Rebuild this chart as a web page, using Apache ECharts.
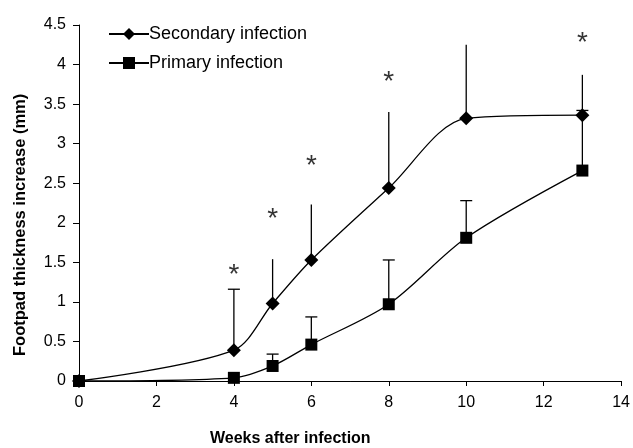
<!DOCTYPE html>
<html>
<head>
<meta charset="utf-8">
<script src="https://cdn.jsdelivr.net/npm/echarts@6/dist/echarts.min.js"></script>
<style>
  html, body { margin: 0; padding: 0; background: #fff; }
  #chart { width: 633px; height: 448px; }
</style>
</head>
<body>
<div id="chart"></div>
<script>
// weeks after infection
const weeks = [0, 4, 5, 6, 8, 10, 13]
// mean footpad thickness increase (mm)
const secondary = [0, 0.39, 0.98, 1.53, 2.44, 3.32, 3.36]
const primary = [0, 0.04, 0.19, 0.46, 0.97, 1.81, 2.66]
// upper end of the error bars
const secondaryErrTop = [0, 1.16, 1.54, 2.23, 3.40, 4.25, 3.87]
const primaryErrTop = [0, 0, 0.34, 0.81, 1.53, 2.28, 3.42]
// whether a cap is drawn on the bar
const secondaryCap = [false, true, false, false, false, false, false]
const primaryCap = [false, false, true, true, true, true, true]
// asterisk positions (significance marks)
const starWeeks = [4, 5, 6, 8, 10, 13]
const starValues = [1.43, 2.13, 2.80, 3.86, 4.53, 4.36]

const yTicks = ['0', '0.5', '1', '1.5', '2', '2.5', '3', '3.5', '4', '4.5']

const font = 'Liberation Sans, Arial, sans-serif'
const ink = '#000'

const pairs = (xs, ys) => xs.map((x, i) => [x, ys[i]])

function errSeries(name, tops, means, caps) {
  const data = weeks.map((w, i) => [w, means[i], tops[i], caps[i] ? 1 : 0])
    .filter(d => d[2] > d[1])
  return {
    name, type: 'custom', silent: true, z: 1,
    data,
    renderItem: (params, api) => {
      const lo = api.coord([api.value(0), api.value(1)])
      const hi = api.coord([api.value(0), api.value(2)])
      const children = [{
        type: 'line',
        shape: { x1: lo[0], y1: lo[1], x2: hi[0], y2: hi[1] },
        style: { stroke: ink, lineWidth: 1.3 }
      }]
      if (api.value(3)) {
        children.push({
          type: 'line',
          shape: { x1: hi[0] - 6, y1: hi[1], x2: hi[0] + 6, y2: hi[1] },
          style: { stroke: ink, lineWidth: 1.3 }
        })
      }
      return { type: 'group', children }
    }
  }
}

const chart = echarts.init(document.getElementById('chart'))
chart.setOption({
  animation: false,
  grid: { left: 79, right: 10, top: 25, bottom: 67 },
  legend: {
    left: 103, top: 20, orient: 'vertical', itemGap: 11,
    itemWidth: 40, itemHeight: 15,
    textStyle: { fontFamily: font, fontSize: 18, color: ink, padding: [0, 0, 0, -5] },
    data: ['Secondary infection', 'Primary infection']
  },
  xAxis: {
    type: 'value', min: 0, max: 14, interval: 2,
    axisLine: { lineStyle: { color: ink, width: 1 } },
    axisTick: { inside: false, length: 5, lineStyle: { color: ink } },
    axisLabel: { color: ink, fontFamily: font, fontSize: 16, margin: 14 },
    splitLine: { show: false }
  },
  yAxis: {
    type: 'value', min: 0, max: 4.5, interval: 0.5,
    axisLine: { show: true, lineStyle: { color: ink, width: 1 } },
    axisTick: { show: true, inside: false, length: 6, lineStyle: { color: ink } },
    axisLabel: {
      color: ink, fontFamily: font, fontSize: 16, margin: 13,
      formatter: v => yTicks[Math.round(v / 0.5)]
    },
    splitLine: { show: false }
  },
  graphic: [
    {
      type: 'text', left: 210, top: 431, z: 10,
      style: { text: 'Weeks after infection', font: 'bold 16px ' + font, fill: ink }
    },
    {
      type: 'text', rotation: Math.PI / 2, x: 12, y: 356, z: 10,
      style: { text: 'Footpad thickness increase (mm)', font: 'bold 16.5px ' + font, fill: ink }
    }
  ],
  series: [
    errSeries('secErr', secondaryErrTop, secondary, secondaryCap),
    errSeries('priErr', primaryErrTop, primary, primaryCap),
    {
      name: 'Secondary infection', type: 'line', smooth: 0.3,
      symbol: 'diamond', symbolSize: 14, z: 3,
      lineStyle: { color: ink, width: 1.3 }, itemStyle: { color: ink },
      data: pairs(weeks, secondary)
    },
    {
      name: 'Primary infection', type: 'line', smooth: 0.3,
      symbol: 'rect', symbolSize: 12, z: 3,
      lineStyle: { color: ink, width: 1.3 }, itemStyle: { color: ink },
      data: pairs(weeks, primary)
    },
    {
      name: 'stars', type: 'scatter', symbolSize: 0, silent: true,
      data: pairs(starWeeks, starValues),
      label: {
        show: true, position: 'inside', formatter: '*',
        fontFamily: font, fontSize: 28, color: ink, offset: [0, 7]
      }
    }
  ]
})
</script>
</body>
</html>
